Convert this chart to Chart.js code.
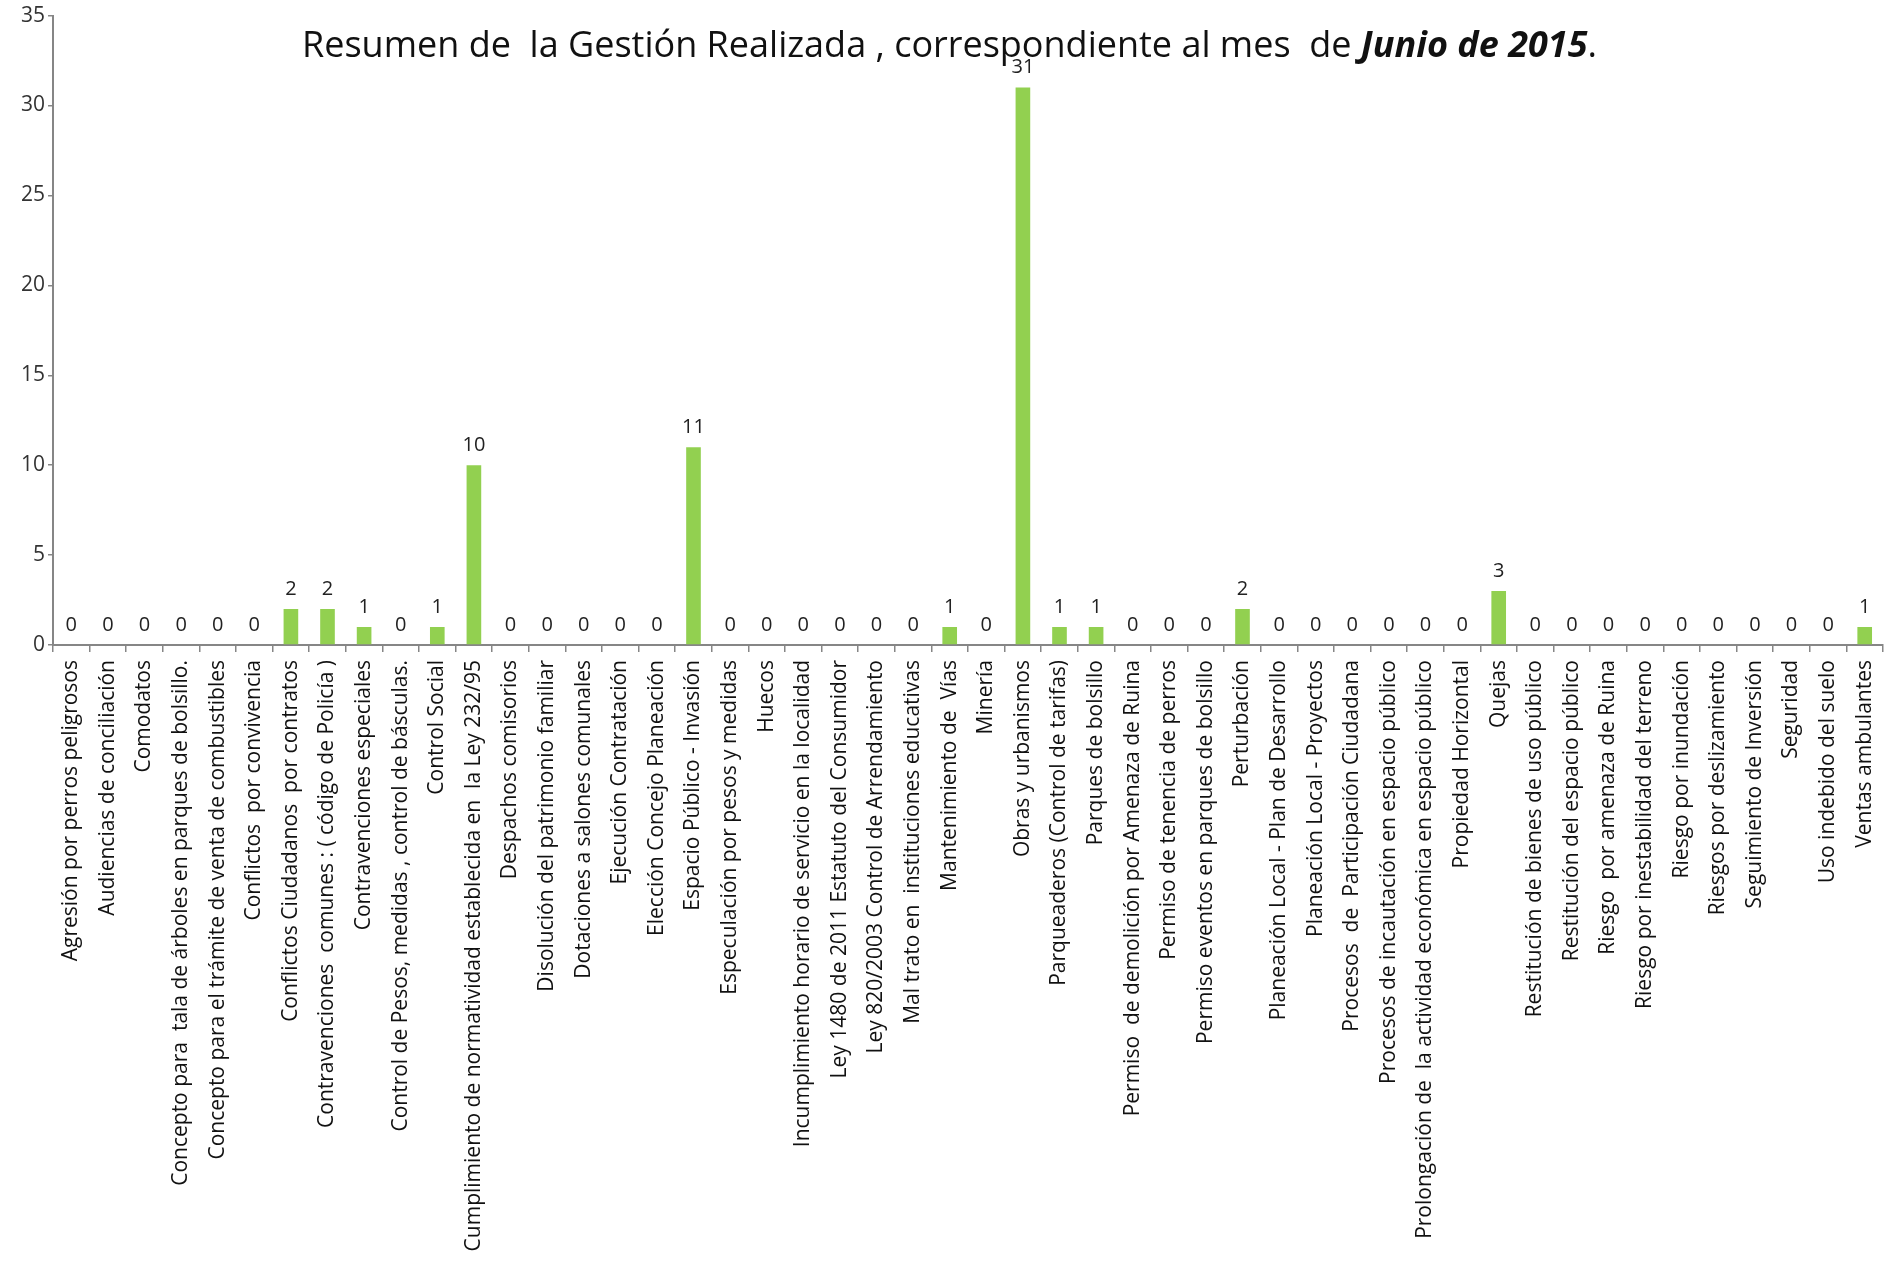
<!DOCTYPE html>
<html>
<head>
<meta charset="utf-8">
<script src="https://cdn.jsdelivr.net/npm/chart.js@4.4.1/dist/chart.umd.min.js"></script>
<style>
  html, body { margin: 0; padding: 0; background: #fff; }
  #wrap { position: relative; width: 1899px; height: 1265px; }
  #titulo {
    position: absolute; left: 0; width: 1899px; top: 19px; text-align: center;
    font-family: 'Open Sans', sans-serif; font-size: 36px; color: #111; white-space: pre;
  }
</style>
</head>
<body>
<div id="wrap">
  <canvas id="grafico" width="1899" height="1265"></canvas>
  <div id="titulo">Resumen de  la Gestión Realizada , correspondiente al mes  de <b><i>Junio de 2015</i></b>.</div>
</div>
<script>
// categorías (eje X)
const categorias = [
  'Agresión por perros peligrosos',
  'Audiencias de conciliación',
  'Comodatos',
  'Concepto para  tala de árboles en parques de bolsillo.',
  'Concepto para el trámite de venta de combustibles',
  'Conflictos  por convivencia',
  'Conflictos Ciudadanos  por contratos',
  'Contravenciones  comunes : ( código de Policía )',
  'Contravenciones especiales',
  'Control de Pesos, medidas , control de básculas.',
  'Control Social',
  'Cumplimiento de normatividad establecida en  la Ley 232/95',
  'Despachos comisorios',
  'Disolución del patrimonio familiar',
  'Dotaciones a salones comunales',
  'Ejecución Contratación',
  'Elección Concejo Planeación',
  'Espacio Público - Invasión',
  'Especulación por pesos y medidas',
  'Huecos',
  'Incumplimiento horario de servicio en la localidad',
  'Ley 1480 de 2011 Estatuto del Consumidor',
  'Ley 820/2003 Control de Arrendamiento',
  'Mal trato en  instituciones educativas',
  'Mantenimiento de  Vías',
  'Minería',
  'Obras y urbanismos',
  'Parqueaderos (Control de tarifas)',
  'Parques de bolsillo',
  'Permiso  de demolición por Amenaza de Ruina',
  'Permiso de tenencia de perros',
  'Permiso eventos en parques de bolsillo',
  'Perturbación',
  'Planeación Local - Plan de Desarrollo',
  'Planeación Local - Proyectos',
  'Procesos  de  Participación Ciudadana',
  'Procesos de incautación en espacio público',
  'Prolongación de  la actividad económica en espacio público',
  'Propiedad Horizontal',
  'Quejas',
  'Restitución de bienes de uso público',
  'Restitución del espacio público',
  'Riesgo  por amenaza de Ruina',
  'Riesgo por inestabilidad del terreno',
  'Riesgo por inundación',
  'Riesgos por deslizamiento',
  'Seguimiento de Inversión',
  'Seguridad',
  'Uso indebido del suelo',
  'Ventas ambulantes'
];

// cantidad de casos por categoría
const casos = [
  0, 0, 0, 0, 0, 0, 2, 2, 1, 0,
  1, 10, 0, 0, 0, 0, 0, 11, 0, 0,
  0, 0, 0, 0, 1, 0, 31, 1, 1, 0,
  0, 0, 2, 0, 0, 0, 0, 0, 0, 3,
  0, 0, 0, 0, 0, 0, 0, 0, 0, 1
];

// escala del eje Y
const ejeYMin = 0;
const ejeYMax = 35;
const ejeYPaso = 5;

const fuente = "'Open Sans', sans-serif";

// etiquetas de valor encima de cada barra
const etiquetasValor = {
  id: 'etiquetasValor',
  afterDatasetsDraw(chart) {
    const ctx = chart.ctx;
    const meta = chart.getDatasetMeta(0);
    ctx.save();
    ctx.font = '20px ' + fuente;
    ctx.fillStyle = '#222';
    ctx.textAlign = 'center';
    ctx.textBaseline = 'bottom';
    meta.data.forEach((barra, i) => {
      ctx.fillText(String(casos[i]), barra.x, barra.y - 10);
    });
    ctx.restore();
  }
};

const ctx = document.getElementById('grafico').getContext('2d');
new Chart(ctx, {
  type: 'bar',
  data: {
    labels: categorias,
    datasets: [{
      label: 'Casos',
      data: casos,
      backgroundColor: '#92D050',
      borderWidth: 0,
      barPercentage: 0.4,
      categoryPercentage: 1.0
    }]
  },
  options: {
    responsive: false,
    animation: false,
    layout: { padding: { top: 12, right: 16, bottom: 0, left: 0 } },
    plugins: {
      legend: { display: false },
      tooltip: { enabled: false },
      title: { display: false }
    },
    scales: {
      x: {
        grid: { offset: true, drawOnChartArea: false, tickLength: 7, color: '#868686', lineWidth: 1.5 },
        border: { color: '#868686', width: 2 },
        ticks: {
          autoSkip: false,
          minRotation: 90,
          maxRotation: 90,
          padding: 8,
          color: '#111',
          font: { family: fuente, size: 21 }
        },
        afterFit(scale) { scale.height = 620; }
      },
      y: {
        min: ejeYMin,
        max: ejeYMax,
        grid: { drawOnChartArea: false, tickLength: 5, color: '#868686', lineWidth: 1.5 },
        border: { color: '#868686', width: 2 },
        ticks: {
          stepSize: ejeYPaso,
          padding: 3,
          color: '#333',
          font: { family: fuente, size: 21 }
        },
        afterFit(scale) { scale.width = 53; }
      }
    }
  },
  plugins: [etiquetasValor]
});
</script>
</body>
</html>
